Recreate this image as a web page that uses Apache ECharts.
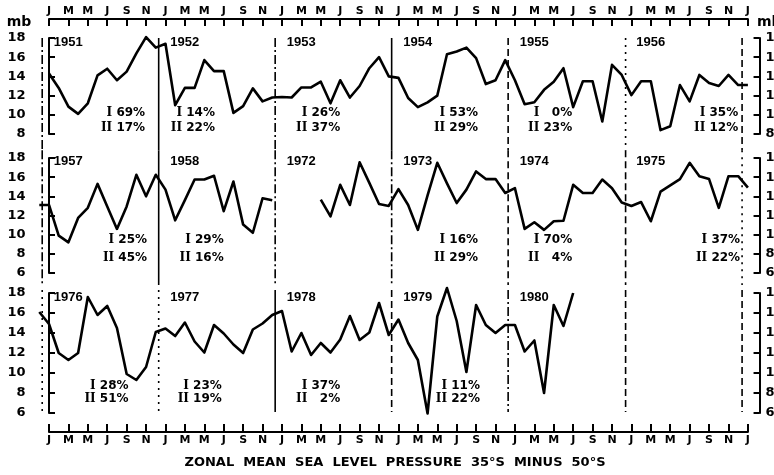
<!DOCTYPE html>
<html>
<head>
<meta charset="utf-8">
<script src="https://cdn.jsdelivr.net/npm/echarts@6.0.0/dist/echarts.min.js"></script>
<style>
html, body { margin: 0; padding: 0; background: #fff; }
#chart { width: 774px; height: 475px; }
</style>
</head>
<body>
<div id="chart"></div>
<script>
// monthly zonal mean sea level pressure difference, 35S minus 50S (mb)
var y1951 = [14.3, 12.8, 10.85, 10.1, 11.2, 14.1, 14.8, 13.6, 14.5, 16.4, 18.1, 17.0];
var y1952 = [17.4, 11.0, 12.8, 12.8, 15.7, 14.55, 14.55, 10.2, 10.9, 12.75, 11.4, 11.8];
var y1953 = [11.85, 11.8, 12.85, 12.85, 13.45, 11.2, 13.6, 11.8, 13.0, 14.85, 16.0, 14.0];
var y1954 = [13.85, 11.75, 10.8, 11.3, 12.0, 16.3, 16.6, 17.0, 15.9, 13.2, 13.6, 15.7];
var y1955 = [13.6, 11.1, 11.3, 12.6, 13.45, 14.85, 10.8, 13.5, 13.5, 9.3, 15.2, 14.15];
var y1956 = [12.05, 13.5, 13.5, 8.4, 8.8, 13.1, 11.4, 14.15, 13.3, 13.0, 14.15, 13.1];

var y1957 = [13.1, 9.9, 9.2, 11.75, 12.8, 15.3, 12.95, 10.6, 12.95, 16.25, 14.0, 16.25];
var y1958 = [14.7, 11.5, 13.6, 15.75, 15.75, 16.15, 12.45, 15.55, 11.05, 10.2, 13.8, 13.6];
var y1972 = [null, null, null, null, 13.65, 11.9, 15.2, 13.1, 17.55, 15.4, 13.2, 13.0];
var y1973 = [14.75, 13.1, 10.5, 14.1, 17.5, 15.35, 13.3, 14.7, 16.6, 15.8, 15.8, 14.35];
var y1974 = [14.85, 10.6, 11.3, 10.5, 11.4, 11.45, 15.2, 14.35, 14.35, 15.75, 14.85, 13.35];
var y1975 = [13.0, 13.4, 11.4, 14.5, 15.15, 15.8, 17.5, 16.1, 15.8, 12.8, 16.1, 16.1];

var y1976 = [14.9, 12.0, 11.3, 12.0, 17.6, 15.8, 16.7, 14.5, 9.9, 9.3, 10.6, 14.1];
var y1977 = [14.45, 13.7, 15.05, 13.15, 12.05, 14.8, 13.95, 12.85, 12.0, 14.35, 14.95, 15.8];
var y1978 = [16.2, 12.15, 14.0, 11.8, 13.0, 12.05, 13.35, 15.7, 13.3, 14.05, 17.0, 13.8];
var y1979 = [15.35, 13.0, 11.3, 5.95, 15.65, 18.5, 15.2, 10.1, 16.8, 14.8, 14.0, 14.8];
var y1980 = [14.8, 12.15, 13.25, 8.0, 16.8, 14.7, 18.0, null, null, null, null, null];

var years1 = ['1951', '1952', '1953', '1954', '1955', '1956'];
var years2 = ['1957', '1958', '1972', '1973', '1974', '1975'];
var years3 = ['1976', '1977', '1978', '1979', '1980'];

// percentages of type I and type II
var pctI1 = [69, 14, 26, 53, 0, 35];
var pctII1 = [17, 22, 37, 29, 23, 12];
var pctI2 = [25, 29, null, 16, 70, 37];
var pctII2 = [45, 16, null, 29, 4, 22];
var pctI3 = [28, 23, 37, 11];
var pctII3 = [51, 19, 2, 22];

var monthLetters = ['J', 'M', 'M', 'J', 'S', 'N'];
var xTitle = 'ZONAL  MEAN  SEA  LEVEL  PRESSURE  35°S  MINUS  50°S';

// ---- layout ----
var FONT = 'DejaVu Sans';
var INK = '#000';
var X0 = 49, PX = 9.707, XMIN = -2, XMAX = 73.2;
var gridLeft = X0 + XMIN * PX;
var gridWidth = (XMAX - XMIN) * PX;

// each strip repeats the neighbouring December / January at its ends
var rows = [
  {top: 38, height: 96, min: 8, sepTop: 18, sepBot: 6.3, yearV: 17.5, noteV: [10.2, 8.6],
   values: [].concat(y1951, y1952, y1953, y1954, y1955, y1956), pre: null, post: y1957[0],
   years: years1, pI: pctI1, pII: pctII1,
   noteX: [9.9, 5.1, 6.0, 8.2, 5.9, 11.0],
   seps: ['dashdot', 'solid', 'dashdot', 'solid', 'dashed', 'dotted', 'dashed']},
  {top: 158, height: 115, min: 6, sepTop: 18.8, sepBot: 4.75, yearV: 17.6, noteV: [9.45, 7.55],
   values: [].concat(y1957, y1958, y1972, y1973, y1974, y1975), pre: y1956[11], post: y1976[0],
   years: years2, pI: pctI2, pII: pctII2,
   noteX: [10.1, 6.0, 0, 8.2, 5.9, 11.2],
   seps: ['dashdot', 'solid', 'dashdot', 'dashdot', 'dashed', 'dashed', 'dotted']},
  {top: 293, height: 120, min: 6, sepTop: 18.3, sepBot: 6.1, yearV: 17.6, noteV: [8.7, 7.4],
   values: [].concat(y1976, y1977, y1978, y1979, y1980), pre: y1975[11], post: null,
   years: years3, pI: pctI3, pII: pctII3,
   noteX: [8.2, 5.8, 6.0, 8.4],
   seps: ['dotted', 'dotted', 'solid', 'dashed', 'dashdot', 'dashed', 'dashed']}
];
var sepIdx = [-0.7, 11.3, 23.3, 35.3, 47.3, 59.4, 71.4];
var dash = {solid: 'solid', dashed: [7, 4], dashdot: [9, 3, 2, 3], dotted: [2, 5]};

function noteText(tag, v) {
  var s = v < 10 ? '\u2007' + v : '' + v;
  return '{n|' + tag + '} ' + s + '%';
}

var grids = [], xAxes = [], yAxes = [], series = [];

rows.forEach(function (r, i) {
  grids.push({left: gridLeft, width: gridWidth, top: r.top, height: r.height, outerBoundsMode: 'none'});
  xAxes.push({gridIndex: i, type: 'value', min: XMIN, max: XMAX, show: false});
  ['left', 'right'].forEach(function (pos) {
    yAxes.push({
      gridIndex: i, type: 'value', position: pos, min: r.min, max: 18, interval: 2,
      axisLine: {show: true, lineStyle: {color: INK, width: 2}},
      axisTick: {show: true, inside: true, length: 6, lineStyle: {color: INK, width: 2}},
      axisLabel: {color: INK, fontSize: 13, fontWeight: 'bold', fontFamily: FONT, margin: pos === 'left' ? 4 : 6},
      splitLine: {show: false}
    });
  });

  var pts = r.values.map(function (v, k) { return [k, v]; });
  if (r.pre !== null) pts.unshift([-1, r.pre]);
  if (r.post !== null) pts.push([72, r.post]);
  series.push({
    type: 'line', xAxisIndex: i, yAxisIndex: 2 * i,
    data: pts,
    symbol: 'none', clip: false, silent: true, connectNulls: false,
    lineStyle: {color: INK, width: 2.6, join: 'round'}, z: 3
  });

  sepIdx.forEach(function (sx, k) {
    series.push({
      type: 'line', xAxisIndex: i, yAxisIndex: 2 * i,
      data: [[sx, r.sepTop], [sx, r.sepBot]],
      symbol: 'none', clip: false, silent: true,
      lineStyle: {color: INK, width: 1.6, type: dash[r.seps[k]]}, z: 1
    });
  });

  series.push({
    type: 'scatter', xAxisIndex: i, yAxisIndex: 2 * i, symbolSize: 0, silent: true,
    itemStyle: {opacity: 1},
    data: r.years.map(function (y, k) { return [12 * k + 0.5, r.yearV, y]; }),
    label: {show: true, position: [0, 0], align: 'left', verticalAlign: 'middle', opacity: 1,
      color: INK, fontSize: 13, fontWeight: 'bold', fontFamily: 'Liberation Sans',
      formatter: function (p) { return p.value[2]; }}
  });

  var notes = [];
  r.pI.forEach(function (v, k) {
    if (v === null) return;
    notes.push([12 * k + r.noteX[k], r.noteV[0], noteText('I', v)]);
    notes.push([12 * k + r.noteX[k], r.noteV[1], noteText('II', r.pII[k])]);
  });
  series.push({
    type: 'scatter', xAxisIndex: i, yAxisIndex: 2 * i, symbolSize: 0, silent: true,
    itemStyle: {opacity: 1},
    data: notes,
    label: {show: true, position: [0, 0], align: 'right', verticalAlign: 'middle', opacity: 1,
      color: INK, fontSize: 12, fontWeight: 'bold', fontFamily: FONT,
      formatter: function (p) { return p.value[2]; },
      rich: {n: {fontFamily: 'DejaVu Serif', fontWeight: 'bold', fontSize: 12, color: INK}}}
  });
});

// month axes at top and bottom
[{top: 19, pos: 'top'}, {top: 431, pos: 'bottom'}].forEach(function (m, j) {
  var gi = 3 + j;
  grids.push({left: X0, width: 72 * PX, top: m.top, height: 1, outerBoundsMode: 'none'});
  xAxes.push({
    gridIndex: gi, type: 'value', position: m.pos, min: 0, max: 72, interval: 2,
    axisLine: {show: true, onZero: false, lineStyle: {color: INK, width: 2}},
    axisTick: {show: true, inside: true, length: m.pos === 'top' ? 7 : 8, lineStyle: {color: INK, width: 2}},
    axisLabel: {color: INK, fontSize: 11, fontWeight: 'bold', fontFamily: FONT, margin: m.pos === 'top' ? 2 : 3,
      formatter: function (v) { return monthLetters[(v % 12) / 2]; }},
    splitLine: {show: false}
  });
  yAxes.push({gridIndex: gi, type: 'value', show: false});
});

var chart = echarts.init(document.getElementById('chart'));
chart.setOption({
  backgroundColor: '#fff',
  animation: false,
  grid: grids,
  xAxis: xAxes,
  yAxis: yAxes,
  series: series,
  graphic: [
    {type: 'text', x: 19, y: 22, style: {text: 'mb', fill: INK, font: 'bold 14px ' + FONT, align: 'center', verticalAlign: 'middle'}},
    {type: 'text', x: 757, y: 22, style: {text: 'mb', fill: INK, font: 'bold 14px ' + FONT, align: 'left', verticalAlign: 'middle'}},
    {type: 'text', x: 395, y: 463, style: {text: xTitle, fill: INK, font: 'bold 13px ' + FONT, align: 'center', verticalAlign: 'middle'}}
  ]
});
</script>
</body>
</html>
